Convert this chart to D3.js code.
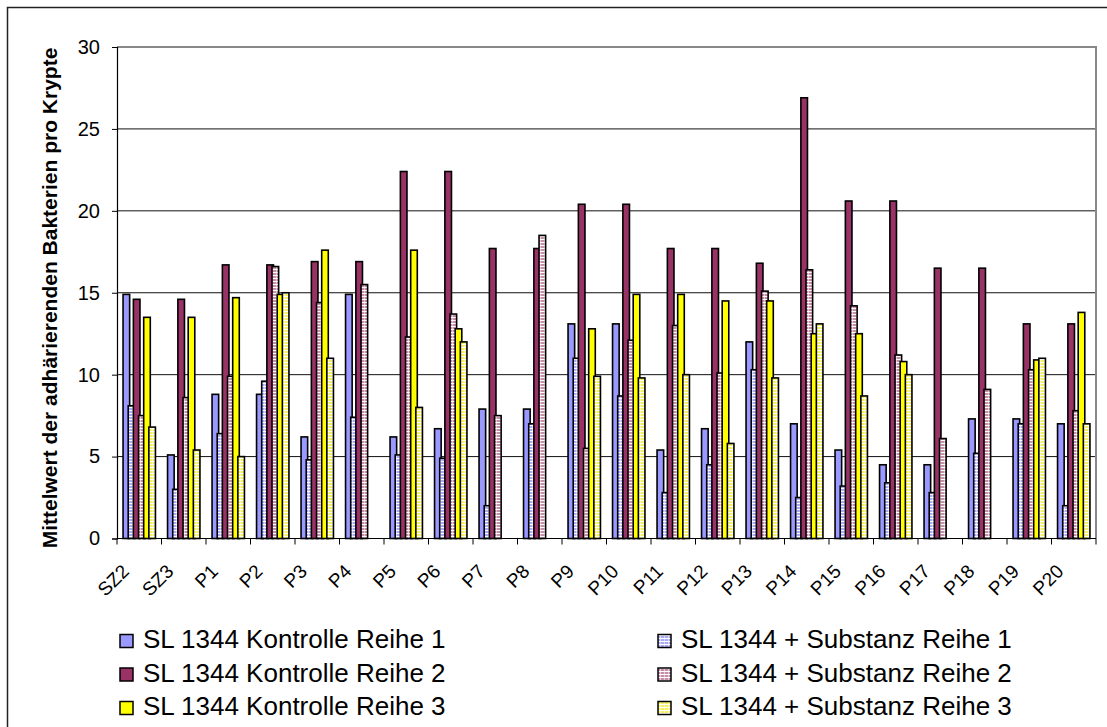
<!DOCTYPE html>
<html><head><meta charset="utf-8">
<script src="https://cdn.jsdelivr.net/npm/d3@7"></script>
<style>
html,body{margin:0;padding:0;background:#fff;}
svg{display:block;font-family:"Liberation Sans",Arial,sans-serif;}
</style></head>
<body>
<svg id="chart" width="1107" height="727"></svg>
<script>
const categories = ["SZ2","SZ3","P1","P2","P3","P4","P5","P6","P7","P8","P9","P10","P11","P12","P13","P14","P15","P16","P17","P18","P19","P20"];
const seriesNames = ["SL 1344 Kontrolle Reihe 1","SL 1344 + Substanz Reihe 1","SL 1344 Kontrolle Reihe 2","SL 1344 + Substanz Reihe 2","SL 1344 Kontrolle Reihe 3","SL 1344 + Substanz Reihe 3"];
const kontrolle1 = [14.9,5.1,8.8,8.8,6.2,14.9,6.2,6.7,7.9,7.9,13.1,13.1,5.4,6.7,12.0,7.0,5.4,4.5,4.5,7.3,7.3,7.0];
const substanz1  = [8.1,3.0,6.4,9.6,4.8,7.4,5.1,4.9,2.0,7.0,11.0,8.7,2.8,4.5,10.3,2.5,3.2,3.4,2.8,5.2,7.0,2.0];
const kontrolle2 = [14.6,14.6,16.7,16.7,16.9,16.9,22.4,22.4,17.7,17.7,20.4,20.4,17.7,17.7,16.8,26.9,20.6,20.6,16.5,16.5,13.1,13.1];
const substanz2  = [7.5,8.6,9.9,16.6,14.4,15.5,12.3,13.7,7.5,18.5,5.5,12.1,13.0,10.1,15.1,16.4,14.2,11.2,6.1,9.1,10.3,7.8];
const kontrolle3 = [13.5,13.5,14.7,14.9,17.6,0,17.6,12.8,0,0,12.8,14.9,14.9,14.5,14.5,12.5,12.5,10.8,0,0,10.9,13.8];
const substanz3  = [6.8,5.4,5.0,15.0,11.0,0,8.0,12.0,0,0,9.9,9.8,10.0,5.8,9.8,13.1,8.7,10.0,0,0,11.0,7.0];
const yTicks = [0,5,10,15,20,25,30];
const yTitle = "Mittelwert der adhärierenden Bakterien pro Krypte";

const allSeries = [kontrolle1, substanz1, kontrolle2, substanz2, kontrolle3, substanz3];
const fills = ["#9999FF","url(#patBlue)","#993366","url(#patPink)","#FFFF00","url(#patYellow)"];

const svg = d3.select("#chart");
const defs = svg.append("defs");
function stripe(id, col){
  const p = defs.append("pattern").attr("id", id).attr("patternUnits","userSpaceOnUse")
    .attr("width", 4).attr("height", 3);
  p.append("rect").attr("width",4).attr("height",3).attr("fill","#fff");
  p.append("rect").attr("width",4).attr("height",2).attr("fill",col);
  p.append("rect").attr("x",0).attr("y",0).attr("width",1).attr("height",3).attr("fill","#fff").attr("opacity",0.5);
}
stripe("patBlue","#AAAAF5");
stripe("patPink","#C890A8");
stripe("patYellow","#F5F066");

// outer frame
svg.append("rect").attr("x",7.5).attr("y",7.5).attr("width",1120).attr("height",740)
  .attr("fill","none").attr("stroke","#222").attr("stroke-width",1.5);

const plot = {left:117, right:1096, top:47, bottom:538.5};
const x = d3.scaleBand().domain(categories).range([plot.left, plot.right]).padding(0);
const y = d3.scaleLinear().domain([0,30]).range([plot.bottom, plot.top]);

const bw = x.bandwidth();
const groupW = bw * 0.728;
const barW = 6.6;
const step = (groupW - barW) / 5;
const inner = d3.scaleLinear().domain([0,5]).range([(bw - groupW)/2, (bw - groupW)/2 + 5*step]);

// gridlines
svg.append("g").selectAll("line").data(yTicks.filter(t => t>0 && t<30)).join("line")
  .attr("x1", plot.left).attr("x2", plot.right)
  .attr("y1", d => y(d)).attr("y2", d => y(d))
  .attr("stroke","#111").attr("stroke-width",1);

// plot area top/right border (gray)
svg.append("path").attr("d", `M${plot.left},${y(30)}H${plot.right}V${plot.bottom}`)
  .attr("fill","none").attr("stroke","#888").attr("stroke-width",2);

// bars
const bars = svg.append("g");
allSeries.forEach((vals, si) => {
  bars.append("g").selectAll("rect").data(vals.map((v,i)=>({v, c:categories[i]})).filter(d=>d.v>0)).join("rect")
    .attr("x", d => x(d.c) + inner(si))
    .attr("y", d => y(d.v))
    .attr("width", barW)
    .attr("height", d => y(0) - y(d.v))
    .attr("fill", fills[si])
    .attr("stroke","#000").attr("stroke-width",1.6);
});

// y axis
const yAxis = d3.axisLeft(y).tickValues(yTicks).tickSize(5).tickPadding(12).tickFormat(d3.format("d"));
const ya = svg.append("g").attr("transform",`translate(${plot.left},0)`).call(yAxis);
ya.select(".domain").attr("stroke","#000").attr("stroke-width",1.2);
ya.selectAll(".tick line").attr("stroke","#000");
ya.selectAll("text").attr("font-size",20).attr("fill","#000").attr("font-family","Liberation Sans, Arial, sans-serif");

// x axis
const xa = svg.append("g").attr("transform",`translate(0,${plot.bottom})`);
xa.append("line").attr("x1",plot.left).attr("x2",plot.right).attr("stroke","#000").attr("stroke-width",1.2);
const bounds = categories.map(c => x(c)).concat([plot.right]);
xa.selectAll("line.tk").data(bounds).join("line").attr("class","tk")
  .attr("x1",d=>d).attr("x2",d=>d).attr("y1",0).attr("y2",6).attr("stroke","#000");
xa.selectAll("text").data(categories).join("text")
  .attr("transform", d => `translate(${x(d)+bw/2-9},${34}) rotate(-45)`)
  .attr("text-anchor","end")
  .attr("font-size",19).attr("fill","#000")
  .text(d => d);

// y title
svg.append("text")
  .attr("transform", `translate(${57},${298}) rotate(-90)`)
  .attr("text-anchor","middle").attr("font-weight","bold").attr("font-size",21)
  .text(yTitle);

// legend
const legendPos = [[120,641],[658,641],[120,674.5],[658,674.5],[120,708],[658,708]];
const lg = svg.append("g");
seriesNames.forEach((name, si) => {
  const [lx, ly] = legendPos[si];
  lg.append("rect").attr("x",lx).attr("y",ly-6.5).attr("width",13).attr("height",13)
    .attr("fill",fills[si]).attr("stroke","#000").attr("stroke-width",1.5);
  lg.append("text").attr("x",lx+23).attr("y",ly+7)
    .attr("font-size",26).attr("fill","#000").text(name);
});
</script>
</body></html>
